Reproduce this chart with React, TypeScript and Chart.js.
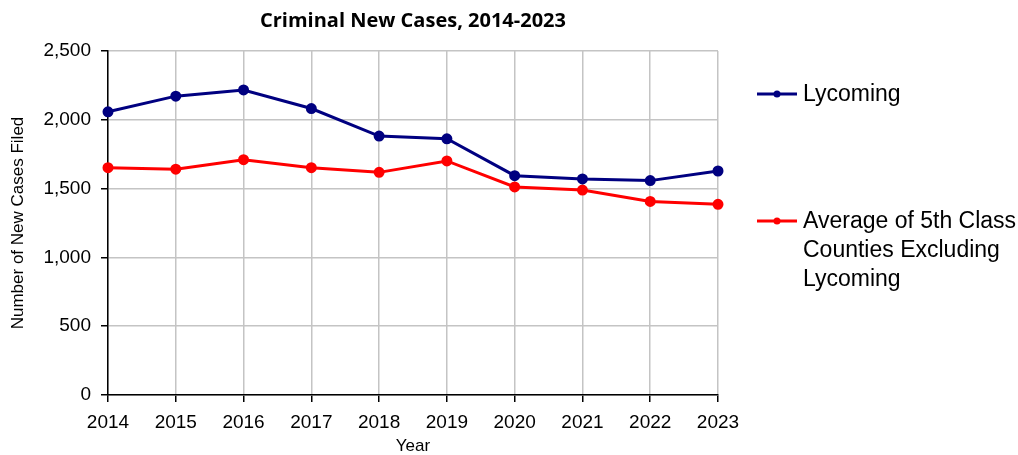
import React, { useEffect, useRef } from "react";
import { Chart, registerables } from "chart.js";

Chart.register(...registerables);

const years = ["2014", "2015", "2016", "2017", "2018", "2019", "2020", "2021", "2022", "2023"];
const lycoming = [2058, 2172, 2217, 2082, 1882, 1862, 1594, 1570, 1558, 1628];
const average5th = [1652, 1641, 1710, 1652, 1618, 1701, 1512, 1489, 1407, 1386];
const titleText = "Criminal New Cases, 2014-2023";
const legendLabels = [["Lycoming"], ["Average of 5th Class", "Counties Excluding", "Lycoming"]];

const FONT = "'Liberation Sans', Arial, sans-serif";

const customPlugin = {
  id: "customDecor",
  afterDraw(chart: any) {
    const ctx = chart.ctx;
    const area = chart.chartArea;
    ctx.save();
    // title
    ctx.fillStyle = "#000";
    ctx.font = "bold 20px 'Open Sans', sans-serif";
    ctx.textAlign = "center";
    ctx.textBaseline = "alphabetic";
    ctx.fillText(titleText, (area.left + area.right) / 2, 27);
    // legend
    const colors = chart.data.datasets.map((d: any) => d.borderColor);
    const ys = [94, 221];
    ctx.font = "23px " + FONT;
    ctx.textAlign = "left";
    ctx.textBaseline = "middle";
    legendLabels.forEach((lines, i) => {
      const y = ys[i];
      ctx.strokeStyle = colors[i];
      ctx.fillStyle = colors[i];
      ctx.lineWidth = 3;
      ctx.beginPath();
      ctx.moveTo(757, y);
      ctx.lineTo(797, y);
      ctx.stroke();
      ctx.beginPath();
      ctx.arc(777, y, 3.5, 0, Math.PI * 2);
      ctx.fill();
      ctx.fillStyle = "#000";
      lines.forEach((t, j) => {
        ctx.fillText(t, 803, y + 1 + j * 29);
      });
    });
    ctx.restore();
  },
};

export default function App() {
  const ref = useRef<HTMLCanvasElement | null>(null);
  useEffect(() => {
    document.body.style.margin = "0";
    const chart = new Chart(ref.current as HTMLCanvasElement, {
      type: "line",
      data: {
        labels: years,
        datasets: [
          {
            label: "Lycoming",
            data: lycoming,
            borderColor: "#000080",
            backgroundColor: "#000080",
            borderWidth: 3,
            pointRadius: 4,
            pointHoverRadius: 4,
            tension: 0,
          },
          {
            label: "Average of 5th Class Counties Excluding Lycoming",
            data: average5th,
            borderColor: "#ff0000",
            backgroundColor: "#ff0000",
            borderWidth: 3,
            pointRadius: 4,
            pointHoverRadius: 4,
            tension: 0,
          },
        ],
      },
      options: {
        responsive: false,
        animation: false,
        layout: { padding: { left: 0, right: 300, top: 51, bottom: 0 } },
        plugins: {
          legend: { display: false },
          title: { display: false },
          tooltip: { enabled: false },
        },
        scales: {
          x: {
            offset: false,
            grid: { color: "#c4c4c4", lineWidth: 1.5, tickColor: "#000", tickLength: 7, drawTicks: true },
            border: { color: "#000", width: 1.5 },
            ticks: { color: "#000", font: { family: FONT, size: 19 }, padding: 9, maxRotation: 0 },
            title: { display: true, text: "Year", color: "#000", font: { family: FONT, size: 17, lineHeight: 1 }, padding: { top: 0, bottom: 0 } },
            afterFit: (s: any) => { s.height = 60; },
          },
          y: {
            min: 0,
            max: 2500,
            grid: { color: "#c4c4c4", lineWidth: 1.5, tickColor: "#000", tickLength: 7, drawTicks: true },
            border: { color: "#000", width: 1.5 },
            ticks: {
              stepSize: 500,
              color: "#000",
              font: { family: FONT, size: 19 },
              padding: 10,
              callback: (v: any) => Number(v).toLocaleString("en-US"),
            },
            title: { display: true, text: "Number of New Cases Filed", color: "#000", font: { family: FONT, size: 17 }, padding: { top: 8, bottom: 0 } },
            afterFit: (s: any) => { s.width = 108; },
          },
        },
      },
      plugins: [customPlugin],
    });
    return () => chart.destroy();
  }, []);
  return (
    <div style={{ width: 1018, height: 455 }}>
      <canvas ref={ref} width={1018} height={455} />
    </div>
  );
}
